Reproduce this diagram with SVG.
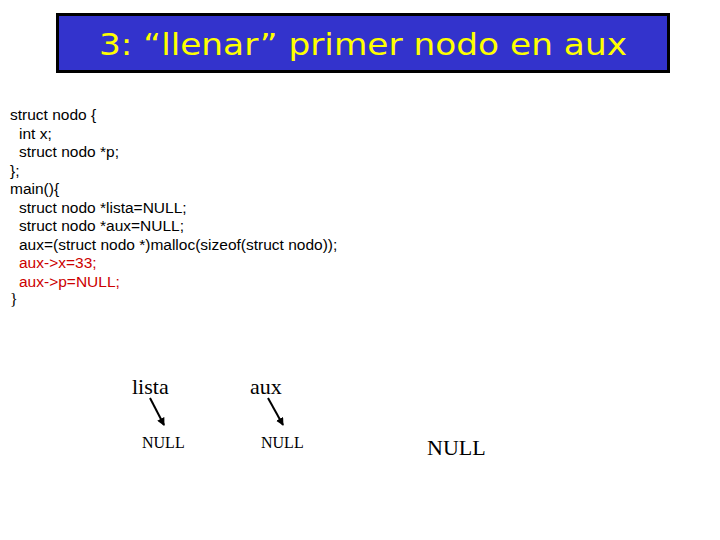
<svg xmlns="http://www.w3.org/2000/svg" width="720" height="540" viewBox="0 0 720 540">
<style>
.c{font-family:"Liberation Sans",Arial,sans-serif;font-size:15.5px;fill:#000}
.r{fill:#cc0000}
.s{font-family:"Liberation Serif","Times New Roman",serif;fill:#000}
</style>
<defs><marker id="a" markerWidth="8" markerHeight="8" refX="7" refY="4" orient="auto" markerUnits="userSpaceOnUse"><path d="M0,0 L8,4 L0,8 z" fill="#000"/></marker></defs>
<rect width="720" height="540" fill="#fff"/>
<g id="title"><rect x="57.5" y="14.5" width="611" height="57" fill="#3333cc" stroke="#000" stroke-width="3"/>
<text x="363" y="55" text-anchor="middle" font-family="'DejaVu Sans',sans-serif" font-size="30" fill="#ffff00" textLength="528" lengthAdjust="spacingAndGlyphs">3: “llenar” primer nodo en aux</text></g>
<g id="code">
<text class="c" x="10" y="120">struct nodo {</text>
<text class="c" x="19" y="138.5">int x;</text>
<text class="c" x="19" y="157">struct nodo *p;</text>
<text class="c" x="10" y="175.5">};</text>
<text class="c" x="10" y="194">main(){</text>
<text class="c" x="19" y="212.5">struct nodo *lista=NULL;</text>
<text class="c" x="19" y="231">struct nodo *aux=NULL;</text>
<text class="c" x="19" y="249.5">aux=(struct nodo *)malloc(sizeof(struct nodo));</text>
<text class="c r" x="19" y="268">aux-&gt;x=33;</text>
<text class="c r" x="19" y="286.5">aux-&gt;p=NULL;</text>
<text class="s" x="10" y="305" font-size="16">}</text>
</g>
<g id="lista"><text class="s" x="132" y="394" font-size="22">lista</text><text class="s" x="142" y="448" font-size="16">NULL</text></g>
<g id="aux"><text class="s" x="250" y="394" font-size="22">aux</text><text class="s" x="261" y="448" font-size="16">NULL</text></g>
<g id="null3"><text class="s" x="427" y="455" font-size="22">NULL</text></g>
<g id="connectors" stroke="#000" stroke-width="2">
<line x1="150" y1="398" x2="164" y2="425" marker-end="url(#a)"/>
<line x1="268" y1="398" x2="283" y2="425" marker-end="url(#a)"/>
</g>
</svg>
